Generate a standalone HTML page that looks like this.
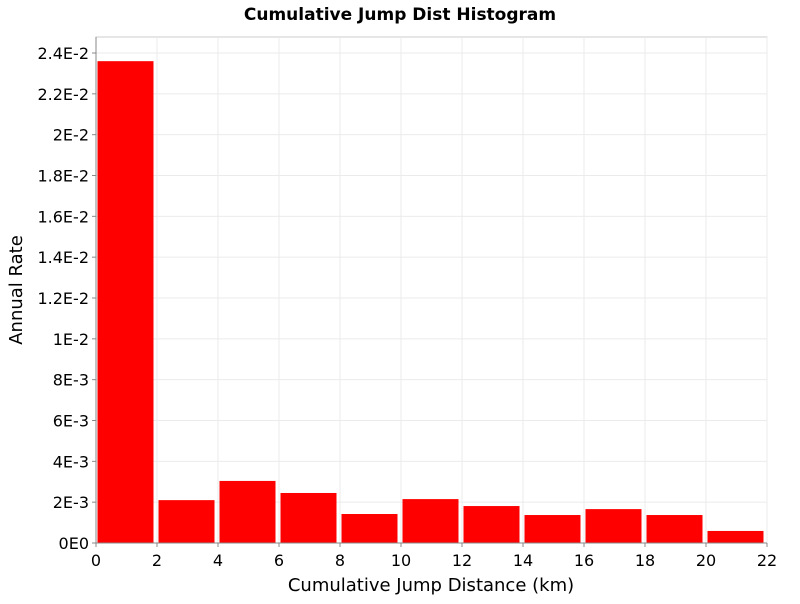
<!DOCTYPE html>
<html><head><meta charset="utf-8"><style>
body{margin:0;background:#fff;font-family:"DejaVu Sans","Liberation Sans",sans-serif}
</style></head><body>
<svg id="chart" width="800" height="600" xmlns="http://www.w3.org/2000/svg">
<rect width="800" height="600" fill="#fff"/>
<text x="400" y="20" text-anchor="middle" font-weight="bold" font-size="17">Cumulative Jump Dist Histogram</text>
<rect x="96" y="37" width="671" height="506" fill="#fff" stroke="#ccc"/>
<g id="grid"></g><g id="bars"></g><g id="axes"></g>
<text x="431" y="591" text-anchor="middle" font-size="18">Cumulative Jump Distance (km)</text>
<text transform="translate(22,290) rotate(-90)" text-anchor="middle" font-size="18">Annual Rate</text>
</svg>
<script>
const binStarts=[0,2,4,6,8,10,12,14,16,18,20];
const rates=[0.0236,0.0021,0.00304,0.00245,0.00142,0.00215,0.00181,0.00137,0.00166,0.00137,0.00059];
const xTicks=[0,2,4,6,8,10,12,14,16,18,20,22];
const yTicks=[0,0.002,0.004,0.006,0.008,0.01,0.012,0.014,0.016,0.018,0.02,0.022,0.024];
const yLabels=["0E0","2E-3","4E-3","6E-3","8E-3","1E-2","1.2E-2","1.4E-2","1.6E-2","1.8E-2","2E-2","2.2E-2","2.4E-2"];
const NS="http://www.w3.org/2000/svg";
const X=v=>96+v*(671/22);
const Y=v=>543-v*(490/0.024);
function mk(p,t,a){const e=document.createElementNS(NS,t);for(const k in a)e.setAttribute(k,a[k]);document.getElementById(p).appendChild(e);return e;}
xTicks.forEach(t=>{
 const l=mk('grid','line',{x1:X(t),x2:X(t),y1:37,y2:543,stroke:'#ebebeb'});
 
 
 const tk=mk('axes','line',{x1:X(t),x2:X(t),y1:543,y2:547,stroke:'#888'});
 
 
 const tx=mk('axes','text',{x:X(t),y:566,'text-anchor':'middle','font-size':'16'});
 tx.textContent=t;
 
 
});
yTicks.forEach((t,i)=>{
 const l=mk('grid','line',{x1:96,x2:767,y1:Y(t),y2:Y(t),stroke:'#ebebeb'});
 
 
 const tk=mk('axes','line',{x1:92,x2:96,y1:Y(t),y2:Y(t),stroke:'#888'});
 
 
 const tx=mk('axes','text',{x:89,y:Y(t)+6,'text-anchor':'end','font-size':'16'});
 tx.textContent=yLabels[i];
 
 
});
binStarts.forEach((b,i)=>{
 const x0=X(b)+1.5,x1=X(b+2)-3.5;
 const r=mk('bars','rect',{x:x0,y:Y(rates[i]),width:x1-x0,height:543-Y(rates[i]),fill:'#ff0000'});
 
 
});
const ax=mk('axes','path',{d:'M96 37V543H767',fill:'none',stroke:'#888'});


</script>
</body></html>
